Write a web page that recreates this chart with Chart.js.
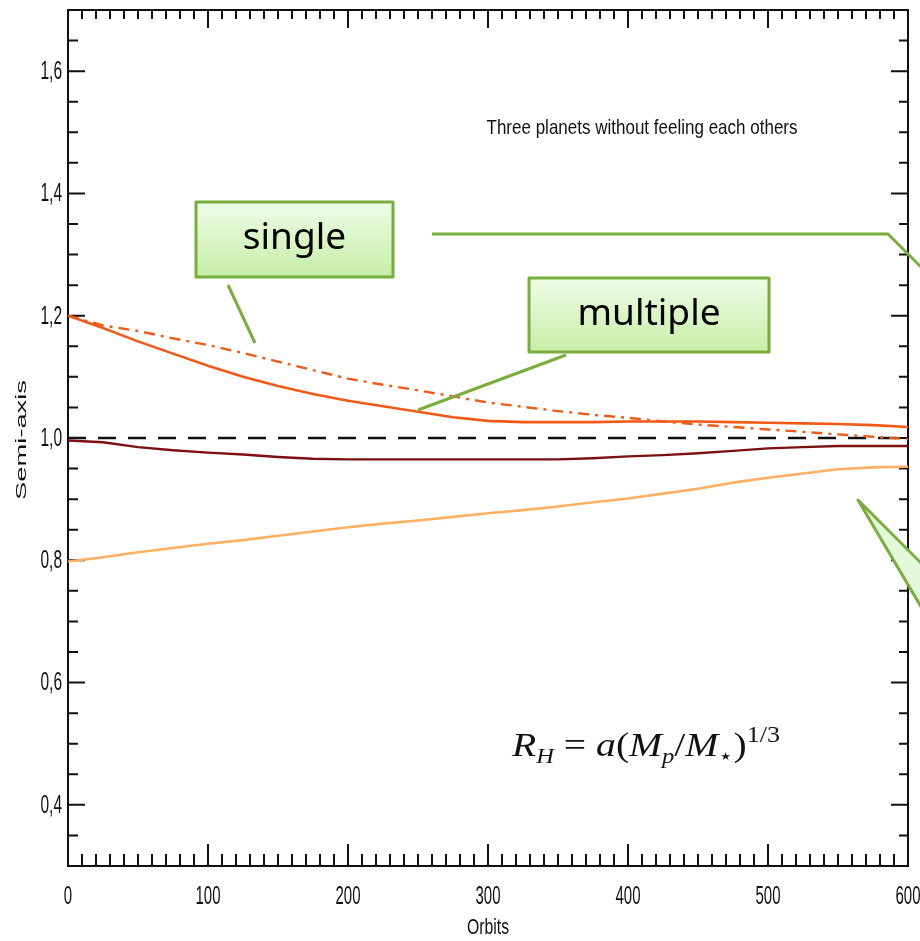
<!DOCTYPE html>
<html>
<head>
<meta charset="utf-8">
<script src="https://cdn.jsdelivr.net/npm/chart.js@4.4.1/dist/chart.umd.min.js"></script>
<style>
  html, body { margin: 0; padding: 0; background: #fff; overflow: hidden; }
  canvas { display: block; }
</style>
</head>
<body>
<canvas id="semiAxisChart" width="920" height="941"></canvas>
<script>
// orbit number of each sample
const orbits = [0, 25, 50, 75, 100, 125, 150, 175, 200, 225, 250, 275, 300,
                325, 350, 375, 400, 425, 450, 475, 500, 525, 550, 575, 600];

// middle planet migrating alone (dash-dot)
const singleAxis = [1.200, 1.184, 1.175, 1.163, 1.152, 1.139, 1.125, 1.111, 1.097, 1.087, 1.078, 1.068, 1.058,
                    1.051, 1.044, 1.038, 1.033, 1.027, 1.022, 1.018, 1.014, 1.010, 1.006, 1.002, 0.998];
// middle planet with the other two present (solid)
const multipleAxis = [1.200, 1.180, 1.158, 1.138, 1.118, 1.100, 1.085, 1.072, 1.061, 1.052, 1.043, 1.034, 1.028,
                      1.026, 1.026, 1.026, 1.027, 1.027, 1.027, 1.026, 1.025, 1.024, 1.023, 1.021, 1.018];
// inner planet
const innerAxis = [0.996, 0.993, 0.985, 0.980, 0.976, 0.973, 0.969, 0.966, 0.965, 0.965, 0.965, 0.965, 0.965,
                   0.965, 0.965, 0.967, 0.970, 0.972, 0.975, 0.979, 0.983, 0.985, 0.987, 0.987, 0.987];
// outer planet
const outerAxis = [0.798, 0.805, 0.813, 0.820, 0.827, 0.833, 0.840, 0.847, 0.854, 0.860, 0.865, 0.871, 0.877,
                   0.882, 0.888, 0.895, 0.901, 0.909, 0.917, 0.927, 0.935, 0.942, 0.949, 0.952, 0.953];

// reference level a = 1
const refOrbits = [0, 600];
const refAxis = [1.0, 1.0];

const xTicks = [0, 100, 200, 300, 400, 500, 600];
const yTicks = [0.4, 0.6, 0.8, 1.0, 1.2, 1.4, 1.6];
const yTickLabels = ['0,4', '0,6', '0,8', '1,0', '1,2', '1,4', '1,6'];

const toPoints = (xs, ys) => xs.map((x, i) => ({ x: x, y: ys[i] }));

// text squeezed horizontally, like the plotting font
function narrowText(ctx, text, x, y, size, sx, align) {
  ctx.save();
  ctx.font = size + 'px "Liberation Sans"';
  ctx.textBaseline = 'middle';
  ctx.textAlign = 'left';
  const w = ctx.measureText(text).width * sx;
  const left = align === 'right' ? x - w : align === 'center' ? x - w / 2 : x;
  ctx.translate(left, y);
  ctx.scale(sx, 1);
  ctx.fillText(text, 0, 0);
  ctx.restore();
}

// text stretched to a given width, optionally rotated
function fitText(ctx, text, cx, cy, size, width, rotation) {
  ctx.save();
  ctx.font = size + 'px "Liberation Sans"';
  ctx.textBaseline = 'middle';
  ctx.textAlign = 'center';
  const sx = width / ctx.measureText(text).width;
  ctx.translate(cx, cy);
  if (rotation) ctx.rotate(rotation);
  ctx.scale(sx, 1);
  ctx.fillText(text, 0, 0);
  ctx.restore();
}

const framePlugin = {
  id: 'frame',
  beforeDatasetsDraw(chart) {
    const { ctx, chartArea: a, scales: { x, y } } = chart;
    ctx.save();
    ctx.strokeStyle = '#111';
    ctx.fillStyle = '#111';
    ctx.lineWidth = 2;
    ctx.strokeRect(a.left, a.top, a.right - a.left, a.bottom - a.top);

    // inward ticks on all four sides
    ctx.beginPath();
    for (let v = 0; v <= 600; v += 10) {
      const px = x.getPixelForValue(v);
      const major = v % 100 === 0;
      ctx.moveTo(px, a.bottom);
      ctx.lineTo(px, a.bottom - (major ? 22 : 12));
      ctx.moveTo(px, a.top);
      ctx.lineTo(px, a.top + (major ? 18 : 9));
    }
    for (let k = 7; k <= 33; k++) {
      const py = y.getPixelForValue(k * 0.05);
      const major = k % 4 === 0;
      ctx.moveTo(a.left, py);
      ctx.lineTo(a.left + (major ? 17 : 10), py);
      ctx.moveTo(a.right, py);
      ctx.lineTo(a.right - (major ? 17 : 9), py);
    }
    ctx.stroke();

    // tick labels
    xTicks.forEach(v => narrowText(ctx, String(v), x.getPixelForValue(v), a.bottom + 31, 25, 0.6, 'center'));
    yTicks.forEach((v, i) => narrowText(ctx, yTickLabels[i], a.left - 6, y.getPixelForValue(v) + 1, 25, 0.62, 'right'));

    // axis titles
    fitText(ctx, 'Orbits', (a.left + a.right) / 2, 928, 22, 42, 0);
    fitText(ctx, 'Semi-axis', 22, 440, 15, 120, -Math.PI / 2);

    // plot title
    fitText(ctx, 'Three planets without feeling each others', 642, 128, 21, 311, 0);
    ctx.restore();
  }
};

function drawFormula(ctx, left, baseline, size, width) {
  const parts = [
    ['R', 'italic', 1, 0],
    ['H', 'italic', 0.62, 0.22],
    [' = ', 'normal', 1, 0],
    ['a', 'italic', 1, 0],
    ['(', 'normal', 1, 0],
    ['M', 'italic', 1, 0],
    ['p', 'italic', 0.62, 0.22],
    ['/', 'normal', 1, 0],
    ['M', 'italic', 1, 0],
    ['\u22C6', 'normal', 0.62, 0.2],
    [')', 'normal', 1, 0],
    ['1/3', 'normal', 0.66, -0.4]
  ];
  ctx.save();
  ctx.textBaseline = 'alphabetic';
  ctx.textAlign = 'left';
  ctx.fillStyle = '#111';
  const fontOf = p => p[1] + ' ' + (size * p[2]).toFixed(1) + 'px "Liberation Serif", "DejaVu Serif"';
  let total = 0;
  parts.forEach(p => { ctx.font = fontOf(p); total += ctx.measureText(p[0]).width; });
  const sx = width / total;
  ctx.translate(left, baseline);
  ctx.scale(sx, 1);
  let cx = 0;
  parts.forEach(p => {
    ctx.font = fontOf(p);
    ctx.fillText(p[0], cx, p[3] * size);
    cx += ctx.measureText(p[0]).width;
  });
  ctx.restore();
}

function calloutBox(ctx, x, y, w, h, text) {
  const g = ctx.createLinearGradient(0, y, 0, y + h);
  g.addColorStop(0, '#eefce7');
  g.addColorStop(1, '#c6eea6');
  ctx.fillStyle = g;
  ctx.fillRect(x, y, w, h);
  ctx.strokeStyle = '#78ae3c';
  ctx.lineWidth = 3;
  ctx.strokeRect(x, y, w, h);
  ctx.fillStyle = '#000';
  ctx.font = '37px "Noto Sans", "Open Sans", sans-serif';
  ctx.textAlign = 'center';
  ctx.textBaseline = 'middle';
  ctx.fillText(text, x + w / 2, y + h / 2 - 1);
}

const calloutPlugin = {
  id: 'callouts',
  afterDraw(chart) {
    const ctx = chart.ctx;
    ctx.save();
    drawFormula(ctx, 512, 756, 34, 268);

    ctx.strokeStyle = '#79ae3d';
    ctx.lineWidth = 3;
    ctx.lineJoin = 'round';
    ctx.beginPath();
    ctx.moveTo(228, 285); ctx.lineTo(255, 343);
    ctx.moveTo(432, 234); ctx.lineTo(888, 234); ctx.lineTo(924, 270);
    ctx.moveTo(566, 355); ctx.lineTo(418, 410);
    ctx.stroke();

    // speech-bubble tail coming in from the right
    ctx.beginPath();
    ctx.moveTo(930, 572);
    ctx.lineTo(858, 500);
    ctx.lineTo(930, 622);
    ctx.closePath();
    ctx.fillStyle = '#e4f8da';
    ctx.fill();
    ctx.beginPath();
    ctx.moveTo(930, 572);
    ctx.lineTo(858, 500);
    ctx.lineTo(930, 622);
    ctx.stroke();

    calloutBox(ctx, 196, 202, 197, 75, 'single');
    calloutBox(ctx, 529, 278, 240, 74, 'multiple');
    ctx.restore();
  }
};

const ctx = document.getElementById('semiAxisChart').getContext('2d');
new Chart(ctx, {
  type: 'line',
  data: {
    datasets: [
      {
        label: 'single',
        data: toPoints(orbits, singleAxis),
        borderColor: '#f05a16',
        borderWidth: 2.4,
        borderDash: [11, 6, 3, 6]
      },
      {
        label: 'multiple',
        data: toPoints(orbits, multipleAxis),
        borderColor: '#f05a16',
        borderWidth: 2.6
      },
      {
        label: 'inner',
        data: toPoints(orbits, innerAxis),
        borderColor: '#7c1010',
        borderWidth: 2.4
      },
      {
        label: 'outer',
        data: toPoints(orbits, outerAxis),
        borderColor: '#ffb062',
        borderWidth: 2.6
      },
      {
        label: 'a = 1',
        data: toPoints(refOrbits, refAxis),
        borderColor: '#111',
        borderWidth: 2.4,
        borderDash: [18, 12]
      }
    ]
  },
  options: {
    responsive: false,
    animation: false,
    layout: { padding: { top: 10, right: 12, bottom: 0, left: 0 } },
    elements: { point: { radius: 0 }, line: { tension: 0 } },
    plugins: { legend: { display: false }, tooltip: { enabled: false } },
    scales: {
      x: {
        type: 'linear',
        min: 0,
        max: 600,
        grid: { display: false, drawTicks: false },
        border: { display: false },
        ticks: { display: false },
        afterFit: s => { s.height = 75; s.paddingLeft = 0; s.paddingRight = 0; }
      },
      y: {
        type: 'linear',
        min: 0.3,
        max: 1.7,
        grid: { display: false, drawTicks: false },
        border: { display: false },
        ticks: { display: false },
        afterFit: s => { s.width = 68; s.paddingTop = 0; s.paddingBottom = 0; }
      }
    }
  },
  plugins: [framePlugin, calloutPlugin]
});
</script>
</body>
</html>
